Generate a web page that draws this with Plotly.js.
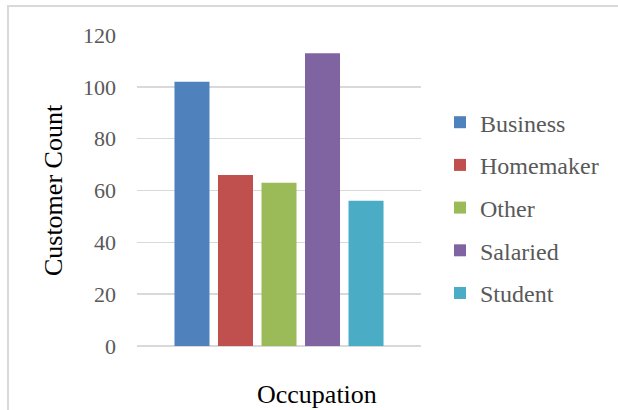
<!DOCTYPE html>
<html>
<head>
<meta charset="utf-8">
<script src="https://cdn.plot.ly/plotly-3.0.1.min.js"></script>
<style>
  html, body { margin: 0; padding: 0; background: #ffffff; }
  #wrap { position: relative; width: 618px; height: 410px; overflow: hidden; }
  #chart { position: absolute; left: 0; top: 0; width: 618px; height: 410px; }
  #frame { position: absolute; left: 7px; top: 5px; width: 640px; height: 440px;
           border: 2px solid #d9d9d9; box-sizing: border-box; pointer-events: none; }
</style>
</head>
<body>
<div id="wrap">
  <div id="chart"></div>
  <div id="frame"></div>
</div>
<script>
// ---- data ----
const occupations = ['Business', 'Homemaker', 'Other', 'Salaried', 'Student'];
const customerCounts = [102, 66, 63, 113, 56];
const seriesColors = ['#4F81BD', '#C0504D', '#9BBB59', '#8064A2', '#4BACC6'];
const categoryLabel = ['Occupation'];
const yTickValues = [0, 20, 40, 60, 80, 100, 120];

const serif = 'Liberation Serif';

const traces = occupations.map((name, i) => ({
  type: 'bar',
  name: name,
  x: categoryLabel,
  y: [customerCounts[i]],
  marker: { color: seriesColors[i], line: { width: 0 } },
  legendgroup: name,
  hoverinfo: 'name+y'
}));

const layout = {
  width: 618,
  height: 410,
  margin: { l: 137, r: 197, t: 35, b: 64, autoexpand: false },
  paper_bgcolor: '#ffffff',
  plot_bgcolor: '#ffffff',
  barmode: 'group',
  bargap: 0.234,
  bargroupgap: 0.195,
  font: { family: serif, color: '#595959', size: 22 },
  showlegend: true,
  legend: {
    x: (440 - 137) / 284,
    xanchor: 'left',
    y: 0.445,
    yanchor: 'middle',
    font: { family: serif, size: 24, color: '#595959' },
    traceorder: 'grouped',
    tracegroupgap: 8.5,
    bgcolor: 'rgba(0,0,0,0)',
    borderwidth: 0
  },
  xaxis: {
    type: 'category',
    showticklabels: false,
    showgrid: false,
    showline: false,
    zeroline: false,
    ticks: '',
    fixedrange: true
  },
  yaxis: {
    range: [0, 120],
    tickvals: yTickValues,
    ticktext: yTickValues.map(String),
    showgrid: true,
    gridcolor: '#d9d9d9',
    gridwidth: 1.6,
    zeroline: true,
    zerolinecolor: '#d9d9d9',
    zerolinewidth: 1.6,
    showline: false,
    ticks: '',
    ticklabelstandoff: 20,
    tickfont: { family: serif, size: 22, color: '#595959' },
    title: {
      text: 'Customer Count',
      font: { family: serif, size: 26, color: '#000000' },
      standoff: 12
    },
    fixedrange: true
  },
  annotations: [{
    text: 'Occupation',
    xref: 'paper', yref: 'paper',
    x: (317 - 137) / 284,
    y: (346 - 394) / 311,
    xanchor: 'center', yanchor: 'middle',
    showarrow: false,
    font: { family: serif, size: 26, color: '#000000' }
  }]
};

Plotly.newPlot('chart', traces, layout, { displayModeBar: false, staticPlot: true });
</script>
</body>
</html>
